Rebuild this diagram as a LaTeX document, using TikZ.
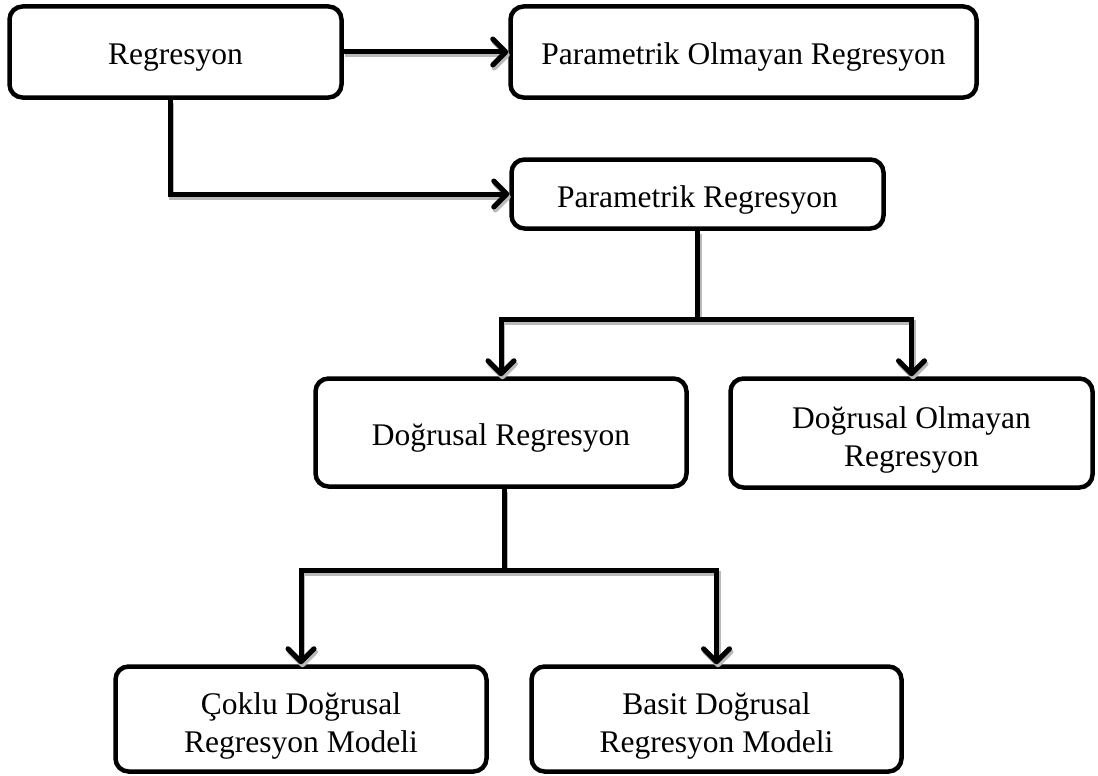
\documentclass[tikz,border=0pt]{standalone}
\usepackage{fontspec}
\setmainfont{Liberation Serif}
\usetikzlibrary{arrows.meta}
\newcommand{\topstrut}{\rule{0pt}{35pt}}
\tikzset{
  box/.style={draw=black, line width=4.5pt, rounded corners=13pt, fill=white,
    inner sep=0pt, align=center, font=\fontsize{31.5}{38}\selectfont},
  oneline/.style={text height=28pt, text depth=2pt},
  tip/.style={-{Straight Barb[length=13pt,width=26pt,round]}},
  shadowline/.style={draw=gray!55, line width=5pt, transform canvas={xshift=1.5pt,yshift=-3pt}},
  mainline/.style={draw=black, line width=5pt},
}
\newcommand{\myconnectors}[1]{%
  \draw[#1,tip] (reg.east) -- (por.west);
  \draw[#1,tip] ([xshift=-5.5pt]reg.south) |- (pr.west);
  \draw[#1] (pr.south) -- (j1);
  \draw[#1,tip] (j1) -| (dr.north);
  \draw[#1,tip] (j1) -| (dor.north);
  \draw[#1] ([xshift=3pt]dr.south) -- (j2);
  \draw[#1,tip] (j2) -| (cok.north);
  \draw[#1,tip] (j2) -| (bas.north);
}
\begin{document}
\begin{tikzpicture}[x=1pt,y=-1pt]
\useasboundingbox (0,0) rectangle (1098,776);
\node[box,oneline,minimum width=332pt,minimum height=91pt] (reg) at (175.5,52) {Regresyon};
\node[box,oneline,minimum width=466pt,minimum height=91pt] (por) at (743.5,52) {Parametrik Olmayan Regresyon};
\node[box,oneline,minimum width=372pt,minimum height=69pt] (pr) at (697.5,194) {Parametrik Regresyon};
\node[box,oneline,minimum width=371pt,minimum height=108pt] (dr) at (501,432.5) {Doğrusal Regresyon};
\node[box,minimum width=362pt,minimum height=109pt] (dor) at (911.5,433) {\topstrut Doğrusal Olmayan\\Regresyon};
\node[box,minimum width=371pt,minimum height=105pt] (cok) at (301,719) {\topstrut Çoklu Doğrusal\\Regresyon Modeli};
\node[box,minimum width=370pt,minimum height=105pt] (bas) at (716.5,719) {\topstrut Basit Doğrusal\\Regresyon Modeli};
\coordinate (j1) at (697.5,319);
\coordinate (j2) at (504,570);
\myconnectors{shadowline}
\myconnectors{mainline}
\end{tikzpicture}
\end{document}
